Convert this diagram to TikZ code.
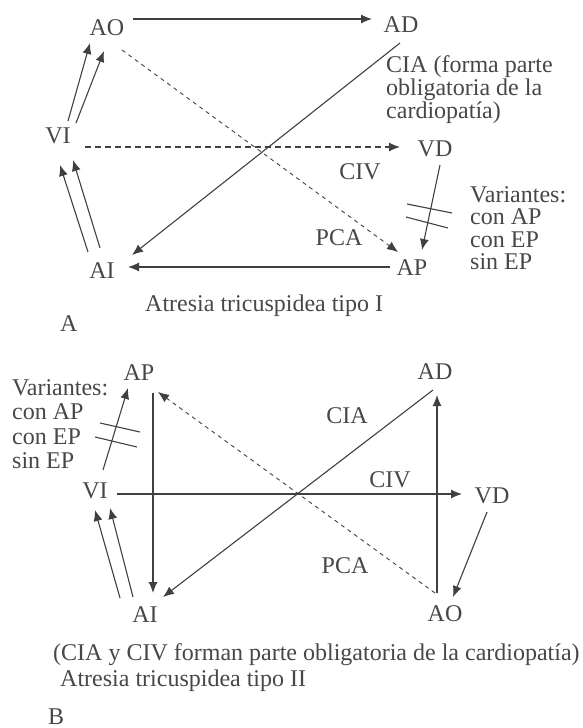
\documentclass[tikz,border=0pt]{standalone}
\usepackage{fontspec}
\setmainfont{Liberation Serif}
\usetikzlibrary{arrows.meta,calc}
\definecolor{ink}{gray}{0.28}
\definecolor{wire}{gray}{0.25}

\begin{document}
\begin{tikzpicture}[x=1pt,y=-1pt,
  every node/.style={inner sep=0pt, text=ink, font=\fontsize{24}{22.4}\selectfont},
  lbl/.style={text height=16pt, text depth=0pt},
  note/.style={anchor=base west},
  midtext/.style={anchor=base},
  link/.style={draw=wire, line width=1.1pt, -{Latex[length=11pt,width=9pt]}},
  bar/.style={draw=wire, line width=1.1pt},
  longdash/.style={dash pattern=on 6pt off 4pt},
  shortdash/.style={dash pattern=on 4pt off 4pt, line width=0.9pt},
]
\useasboundingbox (0,0) rectangle (582,728);

% ---------------- A: type I ----------------
\node[lbl] (aoA) at (107,27) {AO};
\node[lbl] (adA) at (401,24) {AD};
\node[lbl] (viA) at (58,135) {VI};
\node[lbl] (vdA) at (435,148) {VD};
\node[lbl] (aiA) at (102,270) {AI};
\node[lbl] (apA) at (412,267) {AP};

\node[note] (ciaA) at (386,72) {\begin{tabular}[t]{@{}l@{}}CIA (forma parte\\obligatoria de la\\cardiopatía)\end{tabular}};
\node[midtext] (civA) at (360,179) {CIV};
\node[midtext] (pcaA) at (339,245) {PCA};
\node[note] (varA) at (470,202) {\begin{tabular}[t]{@{}l@{}}Variantes:\\con AP\\con EP\\sin EP\end{tabular}};
\node[note] (capA) at (145,311) {Atresia tricuspidea tipo I};
\node[note] (tagA) at (60,331) {A};

\draw[link] ([shift={(26,-8)}]aoA.center) -- ([shift={(-29,-5)}]adA.center);
\draw[link] ([shift={(10,-14)}]viA.center) -- ([shift={(-17,16)}]aoA.center);
\draw[link] ([shift={(18,-12)}]viA.center) -- ([shift={(-3,24)}]aoA.center);
\draw[link] ([shift={(-14,-18)}]aiA.center) -- ([shift={(2,30)}]viA.center);
\draw[link] ([shift={(-2,-22)}]aiA.center) -- ([shift={(15,25)}]viA.center);
\draw[link,shortdash] ([shift={(15,23)}]aoA.center) -- ([shift={(-14,-15)}]apA.center);
\draw[link,longdash] ([shift={(27,12)}]viA.center) -- ([shift={(-35,-1)}]vdA.center);
\draw[link] ([shift={(-1,19)}]adA.center) -- ([shift={(30,-15)}]aiA.center);
\draw[link] ([shift={(-22,0)}]apA.center) -- ([shift={(26,-3)}]aiA.center);
\draw[link] ([shift={(5,17)}]vdA.center) -- ([shift={(10,-17)}]apA.center);
\draw[bar] ([shift={(-5,-63)}]apA.center) -- ([shift={(40,-54)}]apA.center);
\draw[bar] ([shift={(-6,-50)}]apA.center) -- ([shift={(36,-39)}]apA.center);

% ---------------- B: type II ----------------
\node[lbl] (apB) at (139,372) {AP};
\node[lbl] (viB) at (95,490) {VI};
\node[lbl] (aiB) at (145,614) {AI};
\node[lbl] (adB) at (435,371) {AD};
\node[lbl] (vdB) at (492,495) {VD};
\node[lbl] (aoB) at (445,613) {AO};

\node[note,font=\fontsize{24}{24.5}\selectfont] (varB) at (12,395) {\begin{tabular}[t]{@{}l@{}}Variantes:\\con AP\\con EP\\sin EP\end{tabular}};
\node[midtext] (ciaB) at (347,423) {CIA};
\node[midtext] (civB) at (390,487) {CIV};
\node[midtext] (pcaB) at (345,573) {PCA};
\node[note] (capB1) at (53,660) {(CIA y CIV forman parte obligatoria de la cardiopatía)};
\node[note] (capB2) at (60,686) {Atresia tricuspidea tipo II};
\node[note] (tagB) at (48,724) {B};

\draw[link] ([shift={(8,-20)}]viB.center) -- ([shift={(-11,16)}]apB.center);
\draw[bar] ([shift={(-39,51)}]apB.center) -- ([shift={(1,60)}]apB.center);
\draw[bar] ([shift={(-44,65)}]apB.center) -- ([shift={(-2,75)}]apB.center);
\draw[link] ([shift={(14,21)}]apB.center) -- ([shift={(8,-21)}]aiB.center);
\draw[link] ([shift={(-25,-16)}]aiB.center) -- ([shift={(0,20)}]viB.center);
\draw[link] ([shift={(-12,-17)}]aiB.center) -- ([shift={(15,18)}]viB.center);
\draw[link] ([shift={(22,4)}]viB.center) -- ([shift={(-30,-1)}]vdB.center);
\draw[link] ([shift={(-2,19)}]adB.center) -- ([shift={(18,-17)}]aiB.center);
\draw[link] ([shift={(-8,-20)}]aoB.center) -- ([shift={(2,24)}]adB.center);
\draw[link,shortdash] ([shift={(-10,-20)}]aoB.center) -- ([shift={(19,20)}]apB.center);
\draw[link] ([shift={(-5,17)}]vdB.center) -- ([shift={(8,-16)}]aoB.center);
\end{tikzpicture}
\end{document}
